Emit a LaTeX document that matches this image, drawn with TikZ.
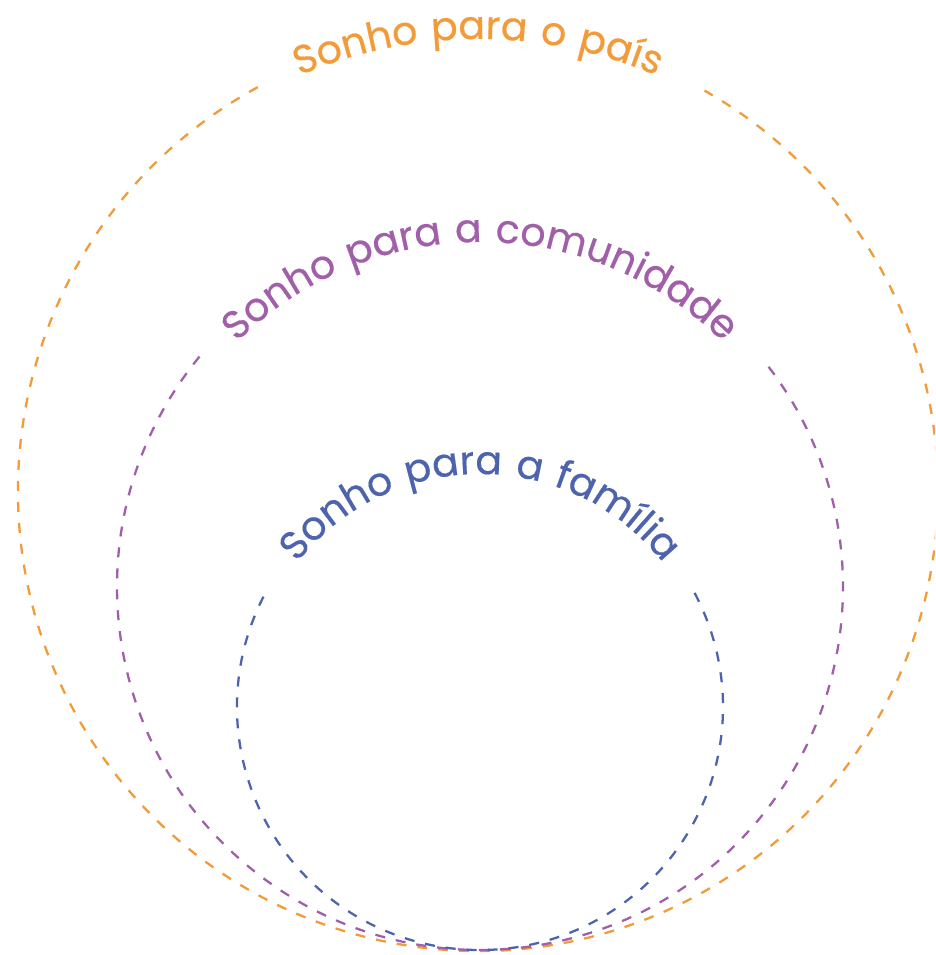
\documentclass[tikz,border=0pt]{standalone}
\usepackage{fontspec}
\usetikzlibrary{decorations.text}
\newfontfamily\sonhofont{Poppins}[LetterSpace=6,FakeBold=0.4]
\definecolor{paiscolor}{HTML}{F29B38}
\definecolor{comcolor}{HTML}{A05FA8}
\definecolor{famcolor}{HTML}{4E63AD}
\newcommand{\sonhothick}{1.3pt}
\newcommand{\sonhosize}{\fontsize{22.5}{26}\selectfont}
\tikzset{
  sonhoring/.style={line width=\sonhothick, dash pattern=on 0.2cm off 0.22cm},
  sonholabel/.style={decorate, decoration={text along path, text align=center, text color=#1}}
}

\begin{document}
\begin{tikzpicture}[x=0.02cm,y=0.02cm]
\useasboundingbox (0,0) rectangle (935,955);
\clip (0,0) rectangle (935,955);
\coordinate (pais) at (478,464);
\coordinate (comunidade) at (480,368);
\coordinate (familia) at (480,248);
%pais
\draw[sonhoring, paiscolor] (pais) ++(118.6:460) arc[start angle=118.6, end angle=420.5, radius=460];
\path[sonholabel=paiscolor, decoration={text={|\sonhofont\sonhosize|Sonho para o país}}]
  (pais) ++(180:452) arc[start angle=180, end angle=0, radius=452];
%comunidade
\draw[sonhoring, comcolor] (comunidade) ++(140.6:363) arc[start angle=140.6, end angle=397.9, radius=363];
\path[sonholabel=comcolor, decoration={text={|\sonhofont\sonhosize|Sonho para a comunidade}}]
  (comunidade) ++(180:345) arc[start angle=180, end angle=0, radius=345];
%familia
\draw[sonhoring, famcolor] (familia) ++(153:243) arc[start angle=153, end angle=390.3, radius=243];
\path[sonholabel=famcolor, decoration={text={|\sonhofont\sonhosize|Sonho para a família}}]
  (familia) ++(180:233) arc[start angle=180, end angle=0, radius=233];
\end{tikzpicture}
\end{document}
